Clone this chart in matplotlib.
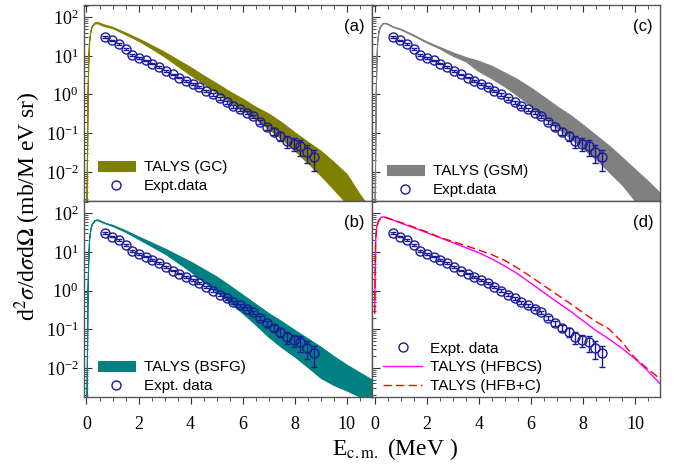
import numpy as np
import matplotlib
matplotlib.use('Agg')
import matplotlib.pyplot as plt
from matplotlib.ticker import MultipleLocator, LogLocator, NullFormatter

plt.rcParams['mathtext.fontset'] = 'stix'
plt.rcParams['font.family'] = 'Liberation Serif'

# experimental data (same in every panel)
e_exp = [0.72, 0.98, 1.24, 1.50, 1.76, 2.01, 2.27, 2.53, 2.79, 3.05, 3.31, 3.57,
         3.83, 4.08, 4.34, 4.60, 4.86, 5.12, 5.38, 5.64, 5.90, 6.15, 6.41, 6.67,
         6.93, 7.19, 7.45, 7.71, 7.97, 8.22, 8.48, 8.74]
y_exp = [31, 25, 20, 15, 10.7, 8.7, 7.6, 6.3, 5.1, 4.1, 3.3, 2.75,
         2.24, 1.86, 1.55, 1.23, 1.0, 0.79, 0.63, 0.50, 0.42, 0.34, 0.275, 0.20,
         0.145, 0.11, 0.085, 0.063, 0.054, 0.046, 0.033, 0.024]
rel_err = [0.05, 0.05, 0.05, 0.05, 0.05, 0.05, 0.05, 0.05, 0.05, 0.05, 0.05, 0.05,
           0.05, 0.05, 0.06, 0.06, 0.07, 0.07, 0.08, 0.08, 0.09, 0.10, 0.10, 0.12,
           0.15, 0.20, 0.25, 0.35, 0.35, 0.45, 0.50, 0.55]

# TALYS bands
e_band = [0.0, 0.02, 0.04, 0.07, 0.1, 0.15, 0.2, 0.3, 0.4, 0.5, 0.7, 1.0, 1.5, 2.0,
          2.5, 3.0, 3.5, 4.0, 4.5, 5.0, 5.5, 6.0, 6.5, 7.0, 7.5, 8.0, 8.5, 9.0,
          9.5, 10.0, 10.5, 11.0]
gc_hi = [0.0015, 0.03, 1.0, 8, 25, 45, 60, 73, 76, 72, 64, 56, 40, 28,
         19, 12.6, 8.0, 5.1, 3.1, 1.95, 1.2, 0.78, 0.48, 0.32, 0.19, 0.105, 0.06, 0.035,
         0.018, 0.0087, 0.0026, 0.0009]
gc_lo = [0.0015, 0.03, 1.0, 8, 24, 43, 57, 68, 70, 66, 58, 52, 36, 24.5,
         15.5, 9.5, 5.5, 3.2, 1.9, 1.1, 0.65, 0.40, 0.23, 0.13, 0.07, 0.036, 0.017, 0.008,
         0.0035, 0.0015, 0.0006, 0.0002]
gsm_hi = [0.0015, 0.03, 1.0, 8, 25, 45, 58, 70, 72, 68, 58, 50, 35, 23.5,
          17, 12.3, 9.3, 7.4, 5.5, 3.7, 2.45, 1.5, 0.87, 0.5, 0.30, 0.166, 0.089, 0.048,
          0.024, 0.0117, 0.0058, 0.0027]
gsm_lo = [0.0015, 0.03, 1.0, 8, 24, 44, 56, 68, 70, 66, 56, 48, 33, 22,
          15.5, 10, 7.2, 4.0, 2.6, 1.6, 0.93, 0.5, 0.26, 0.14, 0.076, 0.041, 0.021, 0.01,
          0.0047, 0.0018, 0.0008, 0.0003]
bsfg_hi = [0.0015, 0.03, 1.0, 7, 22, 40, 53, 66, 70, 66, 57, 50, 36, 25,
           17.5, 12.3, 8.3, 5.6, 3.6, 2.3, 1.35, 0.78, 0.45, 0.26, 0.16, 0.095, 0.058, 0.035,
           0.02, 0.012, 0.0076, 0.0048]
bsfg_lo = [0.0015, 0.03, 1.0, 7, 21, 39, 52, 64, 67, 63, 55, 47, 33, 21.5,
           14, 9.1, 5.4, 3.1, 1.7, 0.93, 0.5, 0.26, 0.13, 0.063, 0.034, 0.0195, 0.0105, 0.0055,
           0.0036, 0.0026, 0.0018, 0.001]

# TALYS curves, panel (d)
e_d = [0.0, 0.02, 0.04, 0.08, 0.15, 0.25, 0.35, 0.5, 0.75, 1.0, 1.5, 2.0, 2.5, 3.0,
       3.5, 4.0, 4.5, 5.0, 5.5, 6.0, 6.5, 7.0, 7.5, 8.0, 8.5, 9.0, 9.5, 10.0, 10.5, 11.0]
hfbcs = [0.26, 3.2, 23, 45, 65, 78, 81, 76, 65, 56, 42, 31.6, 23.4, 17.4,
         12.9, 9.5, 6.6, 4.3, 2.7, 1.55, 0.89, 0.51, 0.30, 0.166, 0.093, 0.056, 0.032, 0.0174,
         0.0083, 0.0037]
hfbc = [0.26, 2.8, 21, 43, 63, 76, 79, 74, 65, 58, 44, 33, 24, 18.6,
        14.5, 11.2, 8.5, 6.0, 3.8, 2.3, 1.35, 0.79, 0.47, 0.27, 0.158, 0.102, 0.047, 0.018,
        0.0093, 0.005]

navy = '#1a1a99'
spine_c = '#555555'

fig, axs = plt.subplots(2, 2, figsize=(6.82, 4.73), dpi=100, sharex=True, sharey=True)
fig.subplots_adjust(left=0.123, right=0.968, top=0.990, bottom=0.161, wspace=0, hspace=0)
ax_a, ax_c = axs[0]
ax_b, ax_d = axs[1]

y_err = [y * r for y, r in zip(y_exp, rel_err)]


def expt(ax, label):
    ax.errorbar(e_exp, y_exp, yerr=y_err, fmt='none', ecolor=navy, elinewidth=1,
                capsize=2.5, capthick=1, zorder=3)
    ax.plot(e_exp, y_exp, 'o', mfc='none', mec=navy, ms=6.5, mew=1, label=label, zorder=4)


def band(ax, lo, hi, color, label):
    ax.fill_between(e_band, lo, hi, color=color, lw=0.8, label=label, zorder=2)


band(ax_a, gc_lo, gc_hi, '#808000', 'TALYS (GC)')
expt(ax_a, 'Expt.data')
band(ax_c, gsm_lo, gsm_hi, '#808080', 'TALYS (GSM)')
expt(ax_c, 'Expt.data')
band(ax_b, bsfg_lo, bsfg_hi, '#008080', 'TALYS (BSFG)')
expt(ax_b, 'Expt. data')
expt(ax_d, 'Expt. data')
ax_d.plot(e_d, hfbcs, color='#ff00ff', lw=1, label='TALYS (HFBCS)', zorder=2)
ax_d.plot(e_d, hfbc, color='#ff0000', lw=1, dashes=(6, 3), label='TALYS (HFB+C)', zorder=2)

ax_a.set_yscale('log')
ax_a.set_ylim(1.78e-3, 210)
ax_a.set_xlim(-0.1, 10.97)

for ax, tag in [(ax_a, '(a)'), (ax_c, '(c)'), (ax_b, '(b)'), (ax_d, '(d)')]:
    for s in ax.spines.values():
        s.set_color(spine_c)
        s.set_linewidth(1)
    ax.xaxis.set_major_locator(MultipleLocator(2))
    ax.xaxis.set_minor_locator(MultipleLocator(0.5))
    ax.yaxis.set_major_locator(LogLocator(base=10))
    ax.yaxis.set_minor_locator(LogLocator(base=10, subs=np.arange(2, 10)))
    ax.yaxis.set_minor_formatter(NullFormatter())
    ax.tick_params(axis='y', which='both', direction='in', left=True, right=False,
                   color='#333333', labelsize=13, pad=4)
    ax.tick_params(axis='y', which='major', length=6)
    ax.tick_params(axis='y', which='minor', length=3)
    ax.text(0.94, 0.89, tag, transform=ax.transAxes, ha='center', va='center',
            fontsize=12, family='Liberation Sans')

for ax in (ax_a, ax_c):
    ax.tick_params(axis='x', which='both', direction='in', top=True, bottom=False,
                   labelbottom=False, color='#333333')
    ax.tick_params(axis='x', which='major', length=5)
    ax.tick_params(axis='x', which='minor', length=3)
for ax in (ax_b, ax_d):
    ax.tick_params(axis='x', which='both', direction='out', top=False, bottom=True,
                   color='#333333', labelsize=13, pad=9)
    ax.tick_params(axis='x', which='major', length=5)
    ax.tick_params(axis='x', which='minor', length=3)
for ax in (ax_c, ax_d):
    ax.tick_params(axis='y', labelleft=False)

leg_kw = dict(loc='lower left', frameon=False, borderpad=0, borderaxespad=0,
              prop={'family': 'Liberation Sans', 'size': 11}, numpoints=1,
              labelspacing=0.3)
ax_a.legend(bbox_to_anchor=(0.049, 0.04), handlelength=2.4, handleheight=0.6,
            handletextpad=0.6, **leg_kw)
ax_c.legend(bbox_to_anchor=(0.052, 0.02), handlelength=2.4, handleheight=0.6,
            handletextpad=0.6, **leg_kw)
ax_b.legend(bbox_to_anchor=(0.049, 0.02), handlelength=2.4, handleheight=0.6,
            handletextpad=0.6, **leg_kw)
ax_d.legend(bbox_to_anchor=(0.039, 0.02), handlelength=2.55, handletextpad=0.52,
            **leg_kw)

fig.text(0.041, 0.564, r'd$^2\sigma$/d$\sigma$d$\Omega$ (mb/M eV sr)', rotation=90,
         ha='center', va='center', fontsize=17)
fig.text(0.579, 0.05, r'E$_{\rm c.m.}$ (MeV )', ha='center', va='center', fontsize=17)

fig.savefig('out.png', dpi=100)
